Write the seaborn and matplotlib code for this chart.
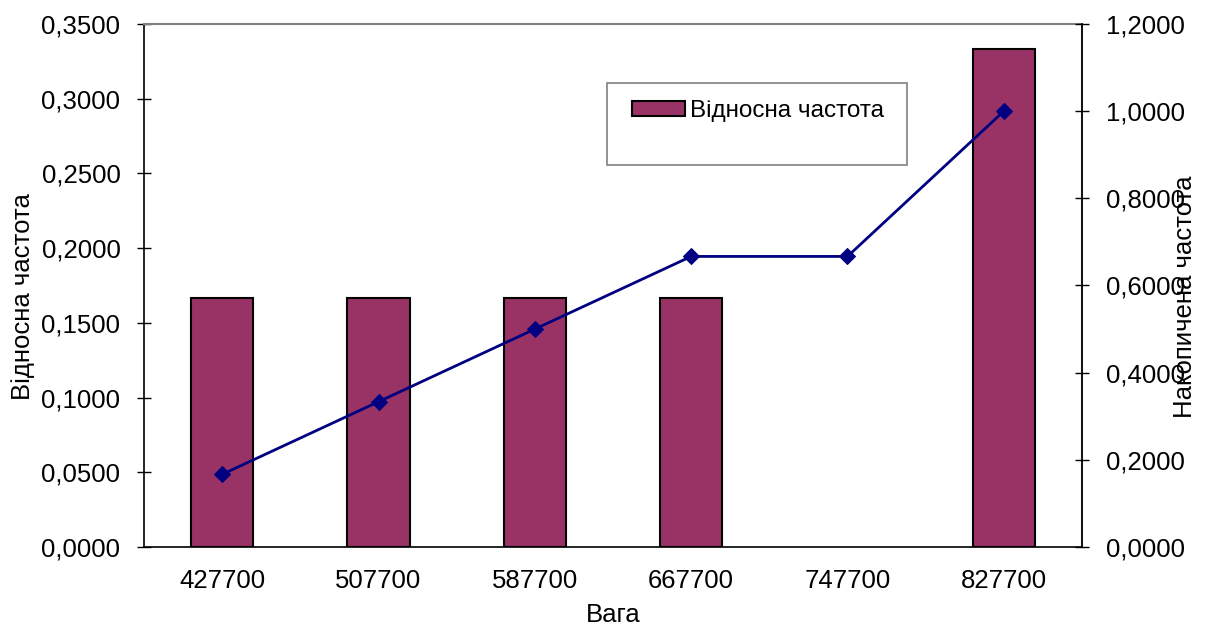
import numpy as np
import pandas as pd
import matplotlib
matplotlib.use('Agg')
import matplotlib.pyplot as plt
import matplotlib.ticker as mticker
from matplotlib.patches import Rectangle
import seaborn as sns

# Дані з графіка
vaga = ['427700', '507700', '587700', '667700', '747700', '827700']
vidnosna = [0.1667, 0.1667, 0.1667, 0.1667, 0.0, 0.3333]
nakopychena = [0.1667, 0.3333, 0.5000, 0.6667, 0.6667, 1.0000]

df = pd.DataFrame({'Вага': vaga, 'Відносна частота': vidnosna,
                   'Накопичена частота': nakopychena})

sns.set_style('white')
plt.rcParams['font.family'] = ['Liberation Sans', 'DejaVu Sans']
plt.rcParams['font.size'] = 18.5
plt.rcParams['text.color'] = 'black'
plt.rcParams['axes.labelcolor'] = 'black'
plt.rcParams['xtick.color'] = 'black'
plt.rcParams['ytick.color'] = 'black'

fig = plt.figure(figsize=(12.07, 6.28), dpi=100)
ax = fig.add_axes([144 / 1207, 1 - 547 / 628, (1082 - 144) / 1207, (547 - 24) / 628])

sns.barplot(data=df, x='Вага', y='Відносна частота', ax=ax, color='#993366',
            edgecolor='black', linewidth=1.5, width=0.4, saturation=1,
            label='Відносна частота')
# нульовий стовпчик не малюємо
for p, v in zip(ax.patches, vidnosna):
    if v == 0:
        p.set_visible(False)
ax.set_xlim(-0.5, len(vaga) - 0.5)
ax.set_ylim(0, 0.35)
ax.yaxis.set_major_locator(mticker.MultipleLocator(0.05))
ax.yaxis.set_major_formatter(mticker.FuncFormatter(lambda v, p: f'{v:.4f}'.replace('.', ',')))
ax.set_xticks(np.arange(len(vaga) + 1) - 0.5, minor=True)
ax.tick_params(axis='x', which='major', length=0, pad=16)
ax.tick_params(axis='x', which='minor', length=10, direction='inout', width=1)
ax.tick_params(axis='y', length=10, direction='inout', width=1, pad=12)
ax.set_xlabel('Вага', labelpad=7)
ax.set_ylabel('')
for s in ['top', 'right']:
    ax.spines[s].set_color('#808080')
    ax.spines[s].set_linewidth(1.5)
for s in ['left', 'bottom']:
    ax.spines[s].set_color('black')
    ax.spines[s].set_linewidth(1.2)

ax2 = ax.twinx()
sns.lineplot(x=np.arange(len(vaga)), y=nakopychena, ax=ax2, color='#000080',
             marker='D', markersize=8, markeredgecolor='#000080', linewidth=2)
ax2.set_ylim(0, 1.2)
ax2.yaxis.set_major_locator(mticker.MultipleLocator(0.2))
ax2.yaxis.set_major_formatter(mticker.FuncFormatter(lambda v, p: f'{v:.4f}'.replace('.', ',')))
ax2.tick_params(axis='y', length=10, direction='inout', width=1, pad=12)
ax2.spines['right'].set_color('black')
ax2.spines['right'].set_linewidth(1.2)
for s in ['top', 'left', 'bottom']:
    ax2.spines[s].set_visible(False)
ax2.set_ylabel('')

fig.text(23 / 1207, 1 - 297 / 628, 'Відносна частота', rotation=90,
         ha='center', va='center')
fig.text(1185 / 1207, 1 - 297 / 628, 'Накопичена частота', rotation=90,
         ha='center', va='center')

# легенда
fig.patches.append(Rectangle((607 / 1207, 1 - 165 / 628), 300 / 1207, 82 / 628,
                             transform=fig.transFigure, fill=False,
                             edgecolor='#808080', linewidth=1.2))
handles, labels = ax.get_legend_handles_labels()
leg = ax.legend(handles[:1], ['Відносна частота'], loc='center left',
                bbox_to_anchor=(610 / 1207, 1 - 111 / 628),
                bbox_transform=fig.transFigure, frameon=False, fontsize=17.5,
                handlelength=2.2, handleheight=0.6, handletextpad=0.2)

fig.savefig('out.png', dpi=100)
